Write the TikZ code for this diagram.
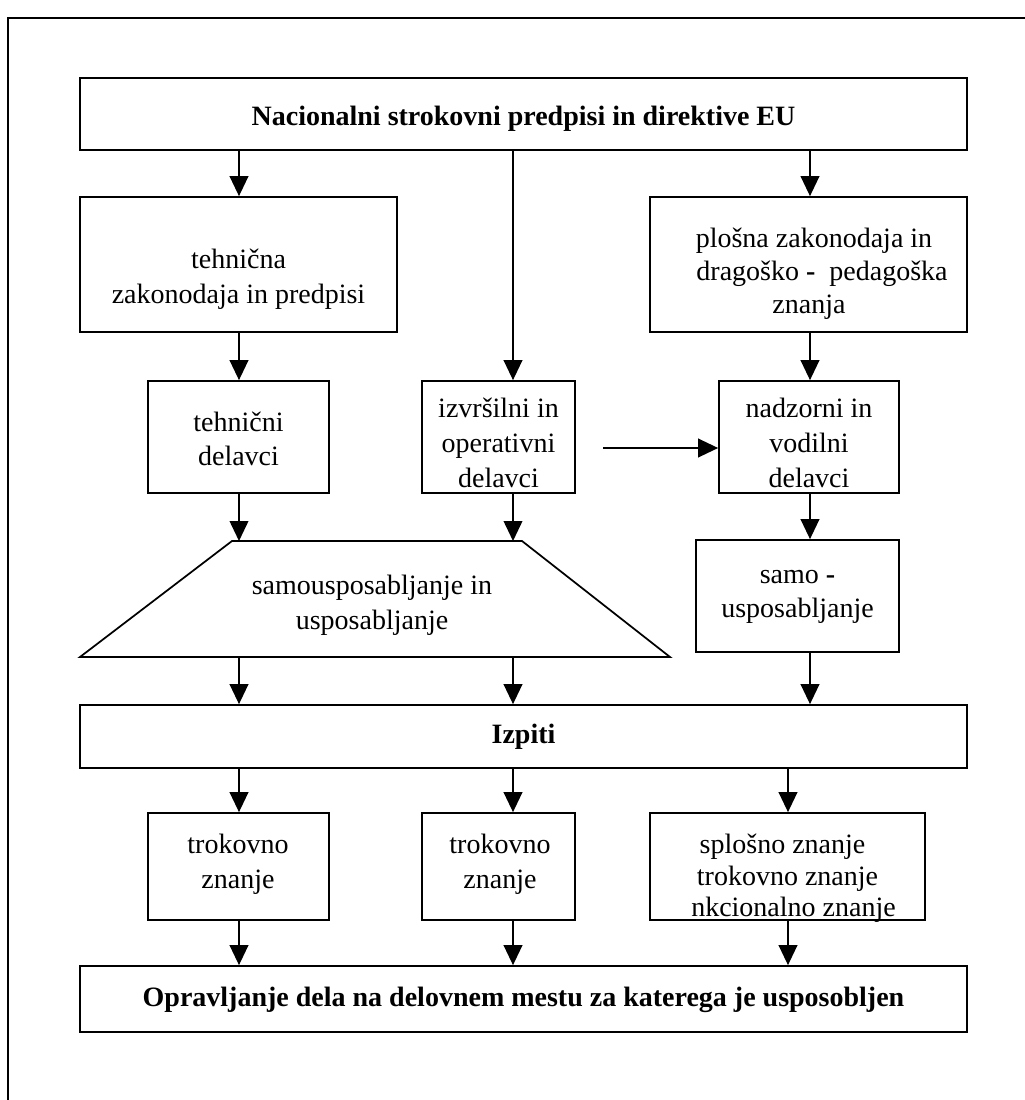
\documentclass[tikz,border=0pt]{standalone}
\usepackage{fontspec}
\setmainfont{Liberation Serif}
\usetikzlibrary{arrows.meta,fit}
\begin{document}
\begin{tikzpicture}[x=0.75pt,y=-0.75pt,
  box/.style={draw, line width=1.3pt, inner sep=0pt, fit={#1}},
  txt/.style={align=center, inner sep=0pt, font=\fontsize{21}{26}\selectfont},
  arr/.style={-{Triangle[length=15pt,width=14pt]}, line width=1.3pt},
  outline/.style={line width=1.3pt, line join=miter}]
\useasboundingbox (0,0) rectangle (1025,1100);
% outer frame (cropped)
\draw[line width=1.3pt] (1025,18) -- (8,18) -- (8,1100);
% columns
\coordinate (c1) at (239,0);
\coordinate (c2) at (513,0);
\coordinate (c3) at (810,0);
\coordinate (c4) at (788,0);
% boxes
\node[box={(80,78)(967,150)}] (top) {};
\node[txt, font=\fontsize{21}{26}\selectfont\bfseries] (topT) at (523.5,119) {Nacionalni strokovni predpisi in direktive EU};
\node[box={(80,197)(397,332)}] (tz) {};
\node[txt] (tzT) at (238.5,279) {tehnična\\zakonodaja in predpisi};
\node[box={(650,197)(967,332)}] (pl) {};
\node[txt] (plA) at (814,241) {plošna zakonodaja in};
\node[txt] (plB) at (822,274) {dragoško \textbf{-}\ \ pedagoška};
\node[txt] (plC) at (809,307) {znanja};
\node[box={(148,381)(329,493)}] (teh) {};
\node[txt] (tehT) at (238.5,439) {tehnični\\delavci};
\node[box={(422,381)(575,493)}] (izv) {};
\node[txt] (izvT) at (498.5,443) {izvršilni in\\operativni\\delavci};
\node[box={(719,381)(899,493)}] (nad) {};
\node[txt] (nadT) at (809,443) {nadzorni in\\vodilni\\delavci};
\coordinate (hs) at (603,448);
% trapezoid
\coordinate (trTL) at (232,541);
\coordinate (trTR) at (522,541);
\coordinate (trBR) at (670,657);
\coordinate (trBL) at (80,657);
\draw[outline] (trBL) -- (trTL) -- (trTR) -- (trBR) -- cycle;
\node[txt] (trT) at (372,605) {samousposabljanje in\\usposabljanje};
\node[box={(696,540)(899,652)}] (samo) {};
\node[txt] (samoT) at (797.5,597) {samo \textbf{-}\\usposabljanje};
\node[box={(80,705)(967,768)}] (iz) {};
\node[txt, font=\fontsize{21}{26}\selectfont\bfseries] (izT) at (523.5,737) {Izpiti};
\node[box={(148,813)(329,920)}] (b1) {};
\node[txt] (b1T) at (238,864) {trokovno\\znanje};
\node[box={(422,813)(575,920)}] (b2) {};
\node[txt] (b2T) at (500,864) {trokovno\\znanje};
\node[box={(650,813)(925,920)}] (b3) {};
\node[txt] (b3A) at (782.5,847) {splošno znanje};
\node[txt] (b3B) at (787.5,879) {trokovno znanje};
\node[txt] (b3C) at (793.5,910) {nkcionalno znanje};
\node[box={(80,966)(967,1032)}] (fin) {};
\node[txt, font=\fontsize{21}{26}\selectfont\bfseries] (finT) at (523.5,1000) {Opravljanje dela na delovnem mestu za katerega je usposobljen};
% connectors
\draw[arr] (top.south -| c1) -- (tz.north -| c1);
\draw[arr] (top.south -| c2) -- (izv.north -| c2);
\draw[arr] (top.south -| c3) -- (pl.north -| c3);
\draw[arr] (tz.south -| c1) -- (teh.north -| c1);
\draw[arr] (pl.south -| c3) -- (nad.north -| c3);
\draw[arr] (hs) -- (hs -| nad.west);
\draw[arr] (teh.south -| c1) -- (c1 |- trTL);
\draw[arr] (izv.south -| c2) -- (c2 |- trTL);
\draw[arr] (nad.south -| c3) -- (samo.north -| c3);
\draw[arr] (c1 |- trBL) -- (iz.north -| c1);
\draw[arr] (c2 |- trBL) -- (iz.north -| c2);
\draw[arr] (samo.south -| c3) -- (iz.north -| c3);
\draw[arr] (iz.south -| c1) -- (b1.north -| c1);
\draw[arr] (iz.south -| c2) -- (b2.north -| c2);
\draw[arr] (iz.south -| c4) -- (b3.north -| c4);
\draw[arr] (b1.south -| c1) -- (fin.north -| c1);
\draw[arr] (b2.south -| c2) -- (fin.north -| c2);
\draw[arr] (b3.south -| c4) -- (fin.north -| c4);
\end{tikzpicture}
\end{document}
